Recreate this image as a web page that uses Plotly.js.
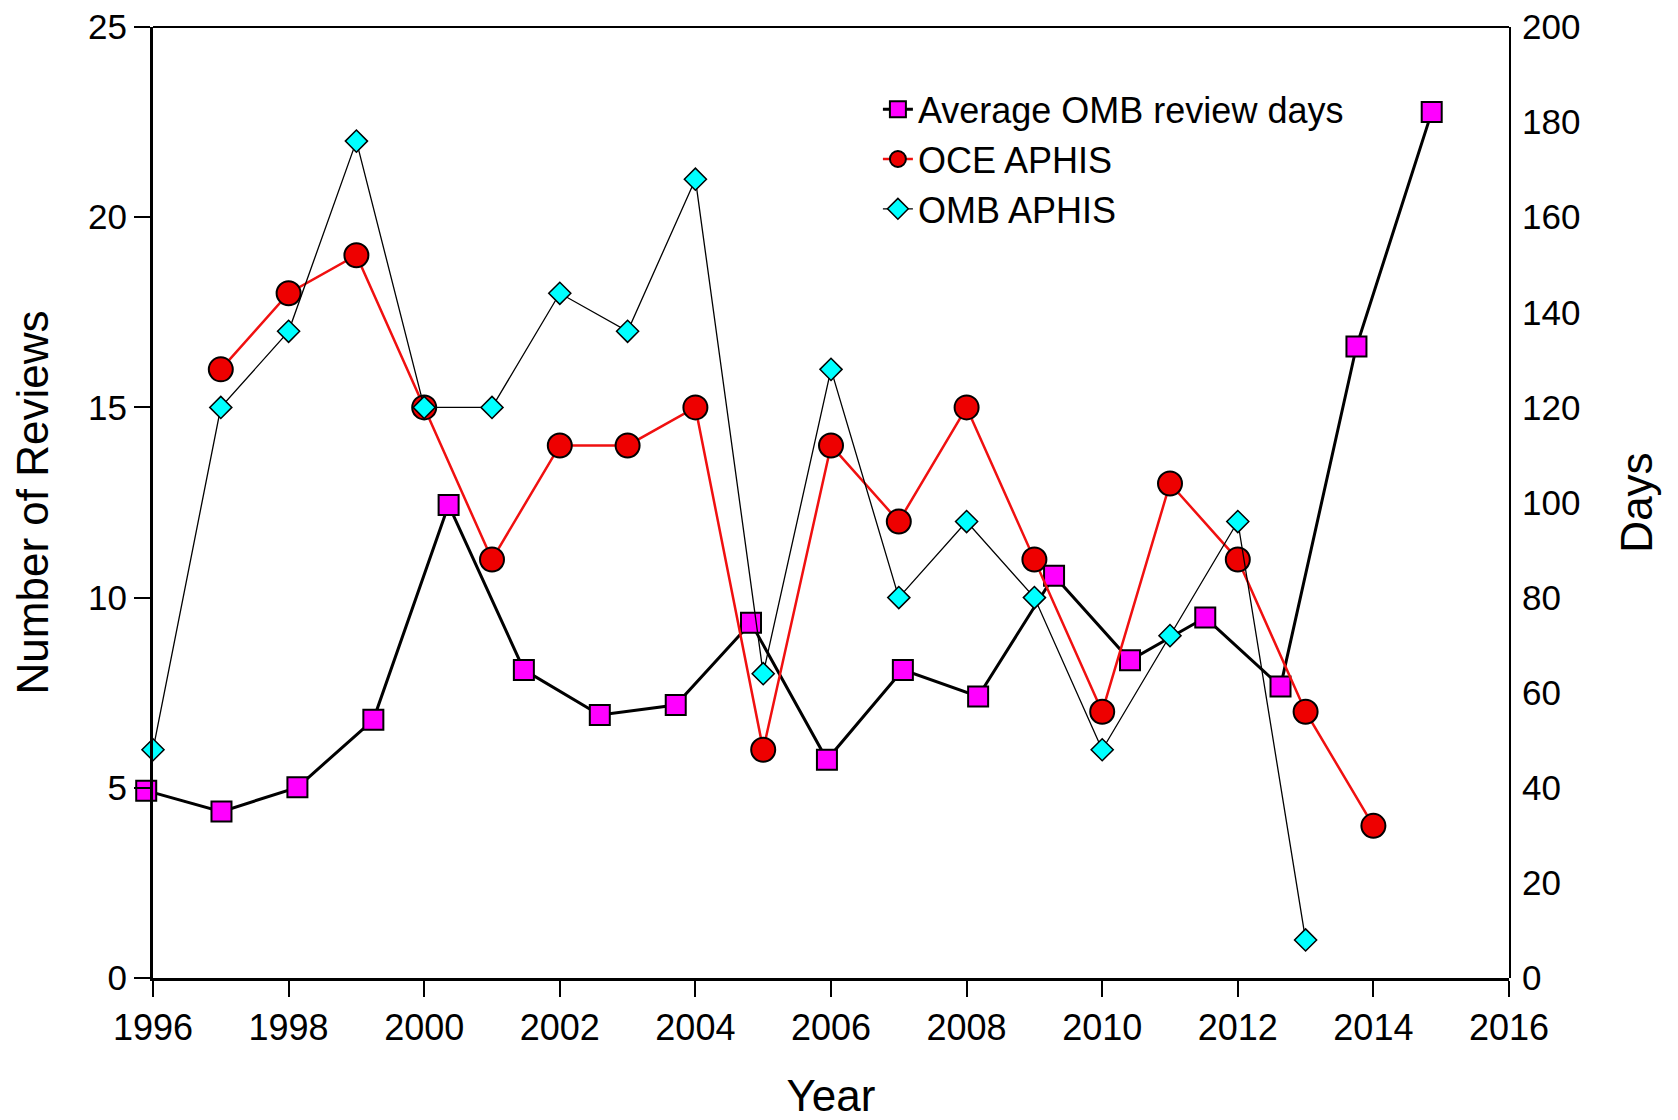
<!DOCTYPE html>
<html>
<head>
<meta charset="utf-8">
<script src="https://cdn.plot.ly/plotly-3.0.1.min.js"></script>
<style>html,body{margin:0;padding:0;background:#fff;}#chart{width:1678px;height:1120px;}</style>
</head>
<body>
<div id="chart"></div>
<script>
// Average OMB review days (right axis, days) at observed x positions
var omb_days_x = [1995.90, 1997.01, 1998.13, 1999.25, 2000.36, 2001.47, 2002.59, 2003.71, 2004.82, 2005.94, 2007.06, 2008.17, 2009.29, 2010.41, 2011.52, 2012.63, 2013.75, 2014.86];
var omb_days_y = [39.4, 35.0, 40.1, 54.3, 99.5, 64.8, 55.3, 57.4, 74.7, 45.9, 64.8, 59.2, 84.6, 66.8, 75.8, 61.3, 132.8, 182.1];

// OCE APHIS (left axis, number of reviews)
var oce_years = [1997, 1998, 1999, 2000, 2001, 2002, 2003, 2004, 2005, 2006, 2007, 2008, 2009, 2010, 2011, 2012, 2013, 2014];
var oce_values = [16, 18, 19, 15, 11, 14, 14, 15, 6, 14, 12, 15, 11, 7, 13, 11, 7, 4];

// OMB APHIS (left axis, number of reviews)
var omb_years = [1996, 1997, 1998, 1999, 2000, 2001, 2002, 2003, 2004, 2005, 2006, 2007, 2008, 2009, 2010, 2011, 2012, 2013];
var omb_values = [6, 15, 17, 22, 15, 15, 18, 17, 21, 8, 16, 10, 12, 10, 6, 9, 12, 1];

var seriesNames = ["Average OMB review days", "OCE APHIS", "OMB APHIS"];
var xTickVals = [1996, 1998, 2000, 2002, 2004, 2006, 2008, 2010, 2012, 2014, 2016];
var yTickVals = [0, 5, 10, 15, 20, 25];
var y2TickVals = [0, 20, 40, 60, 80, 100, 120, 140, 160, 180, 200];

var FONT = "Arial, 'Liberation Sans', sans-serif";

// geometry: the year axis runs from 1996 to 2016; a hidden, slightly wider
// companion axis (same scale) lets the first "days" marker sit just left of 1996.
var ML = 143, MR = 169, W = 1678;
var plotW = W - ML - MR;
var yearSpan = 2016 - 1996;
var padPx = 10;
var pxPerYear = (plotW - padPx) / yearSpan;
var innerStart = padPx / plotW;
var wideStart = 1996 - padPx / pxPerYear;

var traces = [
  {
    x: omb_days_x, y: omb_days_y, xaxis: "x", yaxis: "y", name: seriesNames[0],
    type: "scatter", mode: "lines+markers", cliponaxis: false,
    line: {color: "#000000", width: 3},
    marker: {symbol: "square", size: 20, color: "#FF00FF", line: {color: "#000000", width: 2}}
  },
  {
    x: oce_years, y: oce_values, xaxis: "x2", yaxis: "y2", name: seriesNames[1],
    type: "scatter", mode: "lines+markers", cliponaxis: false,
    line: {color: "#F01010", width: 2.5},
    marker: {symbol: "circle", size: 24, color: "#EE0000", line: {color: "#000000", width: 2}}
  },
  {
    x: omb_years, y: omb_values, xaxis: "x2", yaxis: "y2", name: seriesNames[2],
    type: "scatter", mode: "lines+markers", cliponaxis: false,
    line: {color: "#000000", width: 1.3},
    marker: {symbol: "diamond", size: 17, color: "#00FFFF", line: {color: "#000000", width: 1.5}}
  }
];

var layout = {
  width: 1678, height: 1120,
  margin: {l: ML, r: MR, t: 27, b: 142},
  paper_bgcolor: "#ffffff", plot_bgcolor: "rgba(0,0,0,0)",
  font: {family: FONT, color: "#000000"},
  showlegend: true,
  legend: {
    x: 0.538, y: 0.945, xanchor: "left", yanchor: "top",
    bgcolor: "rgba(0,0,0,0)", font: {size: 36, family: FONT},
    itemsizing: "trace", tracegroupgap: 0
  },
  xaxis: {
    domain: [0, 1], range: [wideStart, 2016], anchor: "y",
    visible: false, showgrid: false, zeroline: false, fixedrange: true
  },
  yaxis: {
    domain: [0, 1], anchor: "x", side: "right", range: [0, 200], tickvals: y2TickVals,
    ticks: "", showline: true, linewidth: 2, linecolor: "#000", showgrid: false, zeroline: false,
    tickfont: {size: 35, family: FONT}, ticklabelstandoff: 4,
    title: {text: "Days", font: {size: 44, family: FONT}, standoff: 42}
  },
  xaxis2: {
    domain: [innerStart, 1], range: [1996, 2016], anchor: "y2",
    tickvals: xTickVals, ticktext: xTickVals.map(String),
    ticks: "outside", ticklen: 16, tickwidth: 2, tickcolor: "#000",
    showline: true, linewidth: 3, linecolor: "#000", showgrid: false, zeroline: false,
    tickfont: {size: 36, family: FONT},
    title: {text: "Year", font: {size: 44, family: FONT}, standoff: 34}
  },
  yaxis2: {
    domain: [0, 1], anchor: "x2", side: "left", range: [0, 25], tickvals: yTickVals,
    ticks: "outside", ticklen: 16, tickwidth: 2, tickcolor: "#000",
    showline: true, linewidth: 3, linecolor: "#000", showgrid: false, zeroline: false,
    tickfont: {size: 35, family: FONT}, ticklabelstandoff: 0,
    title: {text: "Number of Reviews", font: {size: 44, family: FONT}, standoff: 26}
  },
  shapes: [
    {type: "line", xref: "x2 domain", yref: "paper", x0: 0, x1: 1, y0: 1, y1: 1, line: {color: "#000", width: 2}}
  ]
};

Plotly.newPlot("chart", traces, layout, {displayModeBar: false, staticPlot: true});
</script>
</body>
</html>
